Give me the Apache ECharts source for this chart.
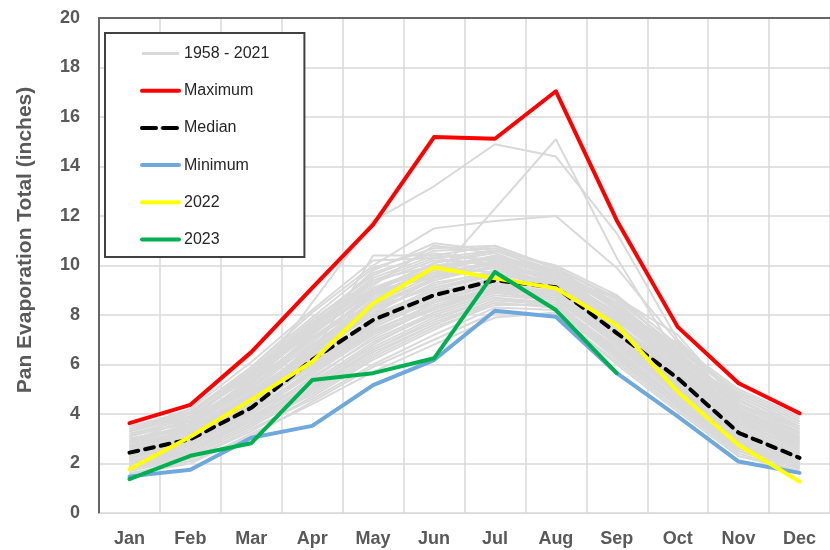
<!DOCTYPE html>
<html>
<head>
<meta charset="utf-8">
<script src="https://cdn.jsdelivr.net/npm/echarts@6/dist/echarts.min.js"></script>
<style>
html,body{margin:0;padding:0;background:#fff;}
#chart{width:830px;height:550px;}
</style>
</head>
<body>
<div id="chart"></div>
<script>
const months = ['Jan','Feb','Mar','Apr','May','Jun','Jul','Aug','Sep','Oct','Nov','Dec'];

const maximum = [3.63,4.37,6.5,9.1,11.65,15.19,15.12,17.04,11.82,7.52,5.24,4.03];
const median  = [2.44,2.98,4.25,6.19,7.8,8.8,9.4,9.12,7.27,5.45,3.24,2.23];
const minimum = [1.48,1.75,3.04,3.52,5.17,6.18,8.17,7.93,5.65,3.9,2.08,1.62];
const y2022   = [1.77,3.08,4.57,6.11,8.47,9.93,9.48,9.08,7.59,4.9,2.75,1.27];
const y2023   = [1.37,2.31,2.82,5.37,5.65,6.25,9.74,8.2,5.65,null,null,null];

const historical = [
  [2.9,3.4,5.0,7.0,8.9,10.1,10.6,9.8,8.2,6.0,3.9,2.8],
  [2.1,2.7,4.0,5.6,7.2,8.3,9.0,8.8,7.0,5.1,3.0,2.0],
  [3.3,3.9,5.6,7.6,9.5,10.4,10.2,9.6,8.5,6.4,4.4,3.4],
  [1.9,2.4,3.6,5.0,6.6,7.7,8.6,8.5,6.5,4.6,2.7,1.8],
  [2.6,3.2,4.5,6.5,8.2,9.2,9.8,9.3,7.6,5.7,3.5,2.5],
  [3.5,4.1,5.9,8.1,10.0,11.5,11.8,12.0,9.9,6.9,4.7,3.6],
  [2.4,2.9,4.2,6.0,7.5,8.6,9.2,8.9,7.1,5.3,3.3,2.3],
  [3.0,3.5,5.2,8.5,11.8,13.2,14.9,14.4,11.3,7.0,4.6,3.2],
  [2.2,3.1,4.8,6.3,9.0,9.5,12.3,15.1,10.3,6.3,4.2,3.0],
  [2.7,3.3,4.7,6.8,8.6,9.8,10.3,9.7,8.0,5.9,3.8,2.7],
  [1.7,2.2,3.4,4.6,6.0,7.2,8.3,8.2,6.2,4.3,2.5,1.8],
  [2.5,3.0,4.4,6.4,10.4,10.4,10.8,9.9,8.3,6.1,3.9,2.9],
  [3.1,3.7,5.4,7.3,9.2,10.8,10.5,9.5,7.9,6.2,4.1,3.1],
  [2.0,2.6,3.9,5.3,6.9,8.0,8.8,8.6,6.8,4.9,2.9,2.0],
  [2.8,3.6,5.1,7.1,8.4,9.4,10.0,9.2,7.7,5.5,3.6,2.6],
  [2.3,2.8,4.1,5.8,7.4,8.4,9.1,9.0,7.2,5.2,3.1,2.1],
  [3.4,4.0,5.8,7.8,9.6,10.6,10.7,9.9,8.6,6.7,4.9,3.8],
  [1.6,2.0,3.2,4.4,5.7,6.8,7.9,8.1,6.0,4.1,2.3,1.7],
  [2.6,3.3,4.6,6.6,8.0,9.0,9.6,9.4,7.8,5.8,3.7,2.6],
  [2.9,3.2,4.9,6.9,8.8,9.9,10.4,9.6,8.1,6.0,4.0,2.9],
  [2.2,2.7,4.3,5.9,7.6,8.7,9.3,9.1,7.4,5.4,3.2,2.2],
  [3.2,3.8,5.3,7.4,9.3,10.2,10.1,9.3,8.8,6.5,4.5,3.5],
  [2.4,3.0,4.4,6.2,7.9,8.9,9.5,9.0,7.3,5.6,3.4,2.4],
  [1.8,2.3,3.5,4.8,6.3,7.5,8.4,8.4,6.4,4.5,2.6,1.9],
  [2.7,3.4,4.8,6.7,8.5,9.6,9.9,9.5,7.9,5.9,3.8,2.8],
  [3.0,3.5,5.5,7.5,9.4,10.0,9.7,9.2,7.6,5.8,3.9,3.0],
  [2.1,2.5,3.8,5.5,7.0,8.1,8.9,8.7,6.9,5.0,2.9,2.1],
  [2.5,3.1,4.6,6.1,7.7,8.5,9.1,8.8,7.0,5.3,3.3,2.4],
  [3.3,3.9,5.7,7.7,9.7,10.5,10.2,9.8,8.4,6.3,4.3,3.3],
  [2.8,3.3,4.7,6.5,8.1,9.3,9.7,9.1,7.5,5.6,3.6,2.7],
  [2.3,2.9,4.2,5.7,7.3,8.2,9.0,8.9,7.1,5.1,3.0,2.2],
  [2.6,3.2,4.5,6.3,7.8,8.9,9.4,9.2,7.7,6.9,4.2,3.1],
  [3.1,3.7,5.0,7.2,9.1,10.0,10.3,9.7,8.0,6.6,4.8,3.7],
  [1.9,2.5,3.7,5.2,6.7,7.9,8.7,8.5,6.6,4.7,2.8,1.9],
  [2.9,3.5,5.1,6.8,8.3,9.1,9.6,9.0,7.4,5.5,3.5,2.5],
  [2.0,2.4,3.6,5.0,6.5,7.6,8.5,8.3,6.3,4.4,2.6,1.9],
  [3.4,4.2,6.1,8.2,10.2,10.3,10.6,9.7,8.3,6.2,4.0,3.0],
  [2.4,3.0,4.3,6.0,7.6,9.0,9.2,8.8,7.2,5.2,3.1,2.3],
  [2.7,3.1,4.6,6.4,8.0,9.5,10.1,9.5,8.7,7.2,4.4,3.2],
  [2.2,2.8,4.0,5.4,7.1,8.3,9.0,8.6,6.8,4.8,2.8,2.0],
  [2.5,3.3,4.9,6.6,8.3,9.4,10.0,9.6,8.0,6.1,4.1,3.0],
  [3.2,3.6,5.3,7.0,8.7,9.7,10.4,9.8,8.5,6.5,4.6,3.4],
  [1.8,2.2,3.3,4.7,6.2,7.4,8.5,8.3,6.3,4.3,2.5,1.8],
  [2.9,3.8,5.6,7.5,9.8,10.9,10.6,10.0,8.8,6.8,4.7,3.5],
  [2.3,2.7,4.0,5.7,7.3,8.5,9.3,8.9,7.3,5.3,3.2,2.3],
  [3.0,3.4,5.0,7.3,8.9,9.6,10.2,9.4,8.1,6.3,4.3,3.3],
  [2.1,2.6,3.8,5.2,6.8,8.1,8.9,8.6,6.9,4.9,2.9,2.0],
  [3.3,4.0,5.9,7.9,9.9,10.7,10.8,9.9,8.7,6.6,4.8,3.7],
  [2.6,3.1,4.4,6.2,7.9,9.1,9.7,9.3,7.8,5.8,3.6,2.6],
  [2.4,2.9,4.5,6.0,7.7,8.8,9.5,9.0,7.4,5.4,3.5,2.5],
  [1.6,2.1,3.1,4.5,5.9,7.0,8.1,8.0,6.1,4.2,2.4,1.7],
  [2.8,3.5,5.2,7.2,9.0,10.1,10.5,9.6,8.3,6.4,4.2,3.2],
  [3.1,3.9,5.5,7.4,9.4,10.3,10.0,9.5,8.1,6.0,4.4,3.4],
  [2.0,2.5,3.7,5.1,6.6,7.8,8.7,8.4,6.7,4.8,2.8,1.9],
  [2.7,3.2,4.8,6.6,8.4,9.5,9.9,9.2,7.6,5.7,3.7,2.8],
  [2.5,3.0,4.3,5.9,7.5,8.6,9.2,9.1,7.5,5.5,3.4,2.4],
  [3.4,4.1,5.7,7.7,9.0,9.9,10.3,9.8,8.2,6.8,5.0,3.9],
  [2.2,2.9,4.1,5.8,7.4,8.3,9.1,8.7,7.0,5.0,3.0,2.1],
  [2.9,3.6,5.3,7.1,8.8,9.7,10.1,9.4,7.9,6.1,4.1,3.0],
  [1.9,2.3,3.5,4.9,6.4,7.6,8.6,8.4,6.5,4.5,2.7,1.9]
];

const histName = '1958 - 2021';
const labelColor = '#595959';
const fontFam = 'Liberation Sans, Arial, sans-serif';

const series = [];
historical.forEach(function (d) {
  series.push({
    name: histName, type: 'line', data: d, symbol: 'none', silent: true,
    lineStyle: { color: '#d9d9d9', width: 2 }, itemStyle: { color: '#d9d9d9' },
    z: 1
  });
});
function main(name, data, color, extra) {
  series.push({
    name: name, type: 'line', data: data, symbol: 'none',
    lineStyle: Object.assign({ color: color, width: 4, cap: 'round', join: 'round' }, extra || {}),
    itemStyle: { color: color }, z: 3
  });
}
main('Maximum', maximum, '#ff0000');
main('Median', median, '#000000', { type: [9, 7], cap: 'round' });
main('Minimum', minimum, '#6fa8dc');
main('2022', y2022, '#ffff00');
main('2023', y2023, '#00b050');

const chart = echarts.init(document.getElementById('chart'), null, { renderer: 'canvas' });
chart.setOption({
  animation: false,
  backgroundColor: '#ffffff',
  grid: { left: 99, top: 18, width: 737, height: 495, containLabel: false },
  legend: {
    orient: 'vertical', left: 105, top: 33,
    padding: [12.5, 35, 9.5, 35],
    itemWidth: 37, itemHeight: 1, itemGap: 21.2,
    borderColor: '#404040', borderWidth: 2,
    backgroundColor: '#ffffff',
    textStyle: { color: '#262626', fontSize: 16, fontFamily: fontFam },
    lineStyle: { width: 4 },
    data: [
      { name: histName, lineStyle: { width: 3 } },
      { name: 'Maximum' },
      { name: 'Median', lineStyle: { type: [14, 7], width: 4, cap: 'round' } },
      { name: 'Minimum' },
      { name: '2022' },
      { name: '2023' }
    ],
    selectedMode: false
  },
  graphic: [{
    type: 'text',
    x: 25, y: 240,
    rotation: Math.PI / 2,
    style: {
      text: 'Pan Evaporation Total (inches)',
      fill: labelColor, font: 'bold 21px ' + fontFam,
      textAlign: 'center', textVerticalAlign: 'middle'
    }
  }],
  xAxis: [{
    type: 'category', data: months, boundaryGap: true,
    axisLine: { show: true, lineStyle: { color: '#d9d9d9', width: 1 } },
    axisTick: { show: false },
    axisLabel: { color: labelColor, fontSize: 18, fontWeight: 'bold', margin: 17, fontFamily: fontFam },
    splitLine: { show: true, lineStyle: { color: '#d9d9d9', width: 1.5 } }
  }, {
    type: 'category', data: months, position: 'top',
    axisLine: { show: true, lineStyle: { color: '#666666', width: 2 } },
    axisTick: { show: false }, axisLabel: { show: false }, splitLine: { show: false }
  }],
  yAxis: {
    type: 'value', min: 0, max: 20, interval: 2,
    axisLine: { show: true, lineStyle: { color: '#666666', width: 2 } },
    axisTick: { show: false },
    axisLabel: { color: labelColor, fontSize: 18, fontWeight: 'bold', margin: 19, fontFamily: fontFam },
    splitLine: { show: true, lineStyle: { color: '#d9d9d9', width: 1.5 } }
  },
  series: series
});
</script>
</body>
</html>
